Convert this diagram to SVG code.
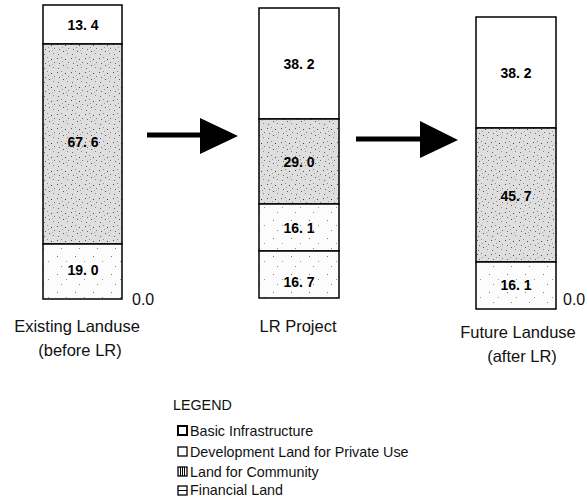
<svg xmlns="http://www.w3.org/2000/svg" width="588" height="497" viewBox="0 0 588 497">
<style>
  .cell { stroke: #000; stroke-width: 1.5; }
  .white { fill: #fff; }
  .dense { fill: url(#dense); }
  .light { fill: url(#light); }
  .val { font-family: "Liberation Sans", Arial, sans-serif; font-size: 14px; font-weight: bold; text-anchor: middle; fill: #000; }
  .lbl { font-family: "Liberation Sans", Arial, sans-serif; font-size: 16.5px; text-anchor: middle; fill: #111; }
  .zero { font-family: "Liberation Sans", Arial, sans-serif; font-size: 16px; fill: #111; }
  .leg { font-family: "Liberation Sans", Arial, sans-serif; font-size: 14.3px; fill: #111; }
  .arrow { fill: #000; stroke: none; }
  .shaft { stroke: #000; stroke-width: 5; }
</style>
<defs>
  <pattern id="dense" width="14" height="14" patternUnits="userSpaceOnUse">
    <rect width="14" height="14" fill="#dedede"/>
    <rect x="1" y="2" width="1" height="1" fill="#555"/>
    <rect x="5" y="1" width="1" height="1" fill="#888"/>
    <rect x="9" y="3" width="1" height="1" fill="#444"/>
    <rect x="12" y="6" width="1" height="1" fill="#777"/>
    <rect x="3" y="7" width="1" height="1" fill="#666"/>
    <rect x="7" y="9" width="1" height="1" fill="#555"/>
    <rect x="11" y="11" width="1" height="1" fill="#888"/>
    <rect x="2" y="12" width="1" height="1" fill="#666"/>
    <rect x="6" y="5" width="1" height="1" fill="#999"/>
    <rect x="10" y="8" width="1" height="1" fill="#aaa"/>
  </pattern>
  <pattern id="light" width="18" height="18" patternUnits="userSpaceOnUse">
    <rect width="18" height="18" fill="#fcfcfc"/>
    <rect x="3" y="4" width="1" height="1" fill="#777"/>
    <rect x="12" y="9" width="1" height="1" fill="#999"/>
    <rect x="7" y="14" width="1" height="1" fill="#888"/>
  </pattern>
</defs>

<g id="bar-existing">
  <rect class="cell white" x="43" y="5" width="79" height="39"/>
  <rect class="cell dense" x="43" y="44" width="79" height="200"/>
  <rect class="cell light" x="43" y="244" width="79" height="55"/>
  <text class="val" x="83" y="30">13. 4</text>
  <text class="val" x="83" y="147">67. 6</text>
  <text class="val" x="83" y="275">19. 0</text>
  <text class="zero" x="132" y="305">0.0</text>
  <text class="lbl" x="77" y="332">Existing Landuse</text>
  <text class="lbl" x="80" y="356">(before LR)</text>
</g>

<g id="bar-project">
  <rect class="cell white" x="259" y="8" width="80" height="111"/>
  <rect class="cell dense" x="259" y="119" width="80" height="85"/>
  <rect class="cell light" x="259" y="204" width="80" height="47"/>
  <rect class="cell light" x="259" y="251" width="80" height="47"/>
  <text class="val" x="299" y="69">38. 2</text>
  <text class="val" x="299" y="167">29. 0</text>
  <text class="val" x="299" y="233">16. 1</text>
  <text class="val" x="299" y="287">16. 7</text>
  <text class="lbl" x="298" y="332">LR Project</text>
</g>

<g id="bar-future">
  <rect class="cell white" x="476" y="17" width="80" height="111"/>
  <rect class="cell dense" x="476" y="128" width="80" height="134"/>
  <rect class="cell light" x="476" y="262" width="80" height="47"/>
  <text class="val" x="516" y="78">38. 2</text>
  <text class="val" x="516" y="201">45. 7</text>
  <text class="val" x="516" y="290">16. 1</text>
  <text class="zero" x="563" y="305">0.0</text>
  <text class="lbl" x="518" y="338">Future Landuse</text>
  <text class="lbl" x="522" y="362">(after LR)</text>
</g>

<g id="connectors">
  <line class="shaft" x1="147" y1="135" x2="204" y2="135"/>
  <polygon class="arrow" points="200,118 238,136 200,154"/>
  <line class="shaft" x1="356" y1="139" x2="424" y2="139"/>
  <polygon class="arrow" points="420,121 458,140 420,158"/>
</g>

<g id="legend">
  <text class="leg" x="173" y="410">LEGEND</text>
  <rect x="178" y="426" width="9" height="9" fill="#fff" stroke="#000" stroke-width="2"/>
  <text class="leg" x="190" y="436">Basic Infrastructure</text>
  <rect x="178" y="447" width="9" height="9" fill="#fff" stroke="#000" stroke-width="1.3"/>
  <text class="leg" x="190" y="457">Development Land for Private Use</text>
  <rect x="178" y="467" width="9" height="9" fill="#fff" stroke="#000" stroke-width="1.3"/>
  <path d="M180.5 467v9M182.5 467v9M184.5 467v9" stroke="#000" stroke-width="1"/>
  <text class="leg" x="190" y="477">Land for Community</text>
  <rect x="178" y="486" width="9" height="9" fill="#fff" stroke="#000" stroke-width="1.3"/>
  <path d="M178 490.5h9" stroke="#000" stroke-width="1"/>
  <text class="leg" x="190" y="495">Financial Land</text>
</g>
</svg>
